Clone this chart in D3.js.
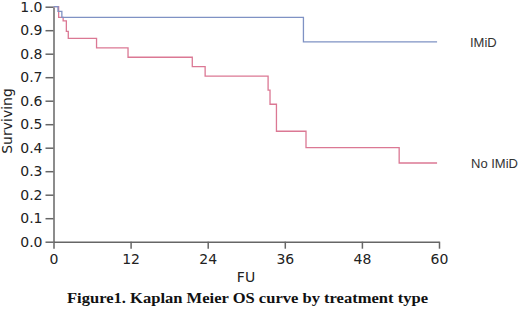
<!DOCTYPE html>
<html>
<head>
<meta charset="utf-8">
<script src="https://cdn.jsdelivr.net/npm/d3@7"></script>
<style>
  body { margin: 0; background: #fff; }
  .axis path, .axis line { stroke: #666; stroke-width: 1.5px; }
  .axis text { font-family: "DejaVu Sans", sans-serif; font-size: 14px; fill: #222; }
</style>
</head>
<body>
<svg id="chart"></svg>
<script>
// Kaplan Meier step data (time in months, survival proportion)
var imidTime = [0, 0.7, 1.3, 38.9, 59.7];
var imidSurv = [1.0, 0.98, 0.955, 0.85, 0.85];

var noImidTime = [0, 0.8, 1.5, 2.0, 2.3, 6.7, 11.6, 21.6, 23.6, 33.4, 33.7, 34.7, 39.3, 53.8, 59.7];
var noImidSurv = [1.0, 0.955, 0.94, 0.895, 0.865, 0.825, 0.785, 0.745, 0.705, 0.645, 0.585, 0.47, 0.40, 0.335, 0.335];

var xTicks = [0, 12, 24, 36, 48, 60];
var yTicks = [0, 0.1, 0.2, 0.3, 0.4, 0.5, 0.6, 0.7, 0.8, 0.9, 1.0];

var seriesNames = ["IMiD", "No IMiD"];
var seriesColors = ["#7f92c4", "#db7894"];

var width = 520, height = 310;
var margin = {top: 6.7, left: 53.5, right: 81, bottom: 68.3};

var svg = d3.select("#chart")
    .attr("width", width)
    .attr("height", height);

var x = d3.scaleLinear()
    .domain([0, 60])
    .range([margin.left, width - margin.right]);

var y = d3.scaleLinear()
    .domain([0, 1])
    .range([height - margin.bottom, margin.top]);

// axes
svg.append("g")
    .attr("class", "axis")
    .attr("transform", `translate(0,${y(0)})`)
    .call(d3.axisBottom(x).tickValues(xTicks).tickSize(7).tickSizeOuter(0).tickPadding(5));

svg.append("g")
    .attr("class", "axis")
    .attr("transform", `translate(${x(0)},0)`)
    .call(d3.axisLeft(y).tickValues(yTicks).tickFormat(d3.format(".1f")).tickSize(8).tickSizeOuter(0).tickPadding(3));

// curves
var line = d3.line()
    .x(d => x(d[0]))
    .y(d => y(d[1]))
    .curve(d3.curveStepAfter);

var series = [
  d3.zip(imidTime, imidSurv),
  d3.zip(noImidTime, noImidSurv)
];

// draw No IMiD first so the blue sits on top at the start
[1, 0].forEach(i => {
  svg.append("path")
      .datum(series[i])
      .attr("fill", "none")
      .attr("stroke", seriesColors[i])
      .attr("stroke-width", 1.3)
      .attr("d", line);
});

// series labels
svg.append("text")
    .attr("x", 470)
    .attr("y", 47)
    .style("font-family", "Liberation Sans, Arial, sans-serif")
    .style("font-size", "13px")
    .attr("fill", "#333")
    .text(seriesNames[0]);

svg.append("text")
    .attr("x", 471)
    .attr("y", 168)
    .style("font-family", "Liberation Sans, Arial, sans-serif")
    .style("font-size", "13px")
    .attr("fill", "#333")
    .text(seriesNames[1]);

// axis titles
svg.append("text")
    .attr("x", 246)
    .attr("y", 282)
    .attr("text-anchor", "middle")
    .style("font-family", "DejaVu Sans, sans-serif")
    .style("font-size", "14px")
    .attr("fill", "#222")
    .text("FU");

svg.append("text")
    .attr("transform", "translate(12,121)rotate(-90)")
    .attr("text-anchor", "middle")
    .style("font-family", "DejaVu Sans, sans-serif")
    .style("font-size", "14px")
    .attr("fill", "#222")
    .text("Surviving");

// caption
svg.append("text")
    .attr("x", 67)
    .attr("y", 303)
    .attr("textLength", 361)
    .attr("lengthAdjust", "spacingAndGlyphs")
    .style("font-family", "Liberation Serif, DejaVu Serif, serif")
    .style("font-weight", "bold")
    .style("font-size", "14px")
    .attr("fill", "#111")
    .text("Figure1. Kaplan Meier OS curve by treatment type");
</script>
</body>
</html>
